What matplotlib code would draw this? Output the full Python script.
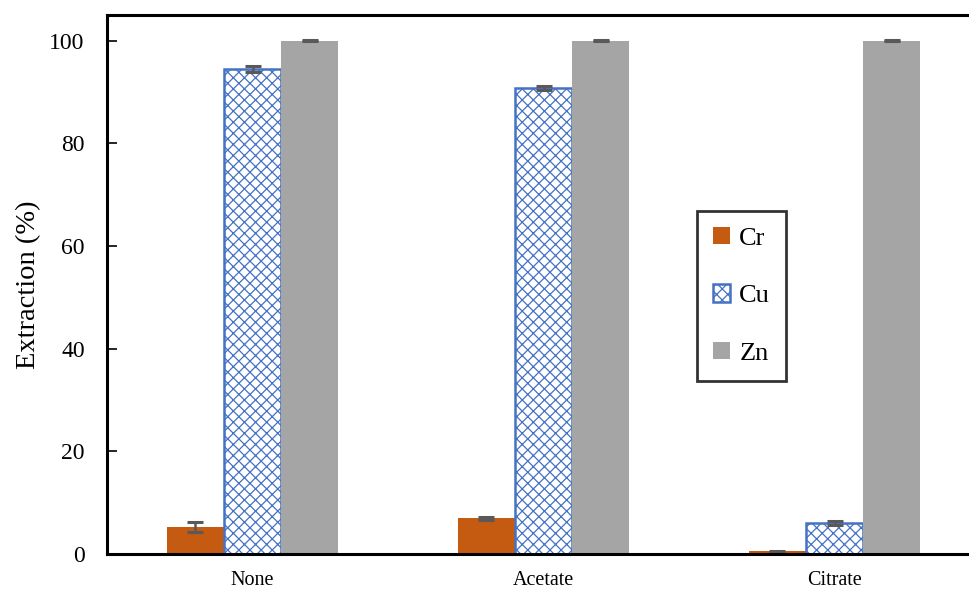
import numpy as np
import matplotlib.pyplot as plt

plt.rcParams['font.family'] = ['Liberation Serif', 'DejaVu Serif']
plt.rcParams['hatch.linewidth'] = 0.9

# data
categories = ['None', 'Acetate', 'Citrate']
cr_vals = [5.2, 7.0, 0.5]
cr_err = [1.0, 0.3, 0.1]
cu_vals = [94.5, 90.8, 6.0]
cu_err = [0.6, 0.4, 0.4]
zn_vals = [100.0, 100.0, 100.0]
zn_err = [0.1, 0.1, 0.1]

fig = plt.figure(figsize=(9.69, 5.95), dpi=100)
W, H = 969, 595
ax = fig.add_axes([107 / W, (H - 554) / H, (980 - 107) / W, (554 - 15) / H])

x = np.arange(len(categories))
bw = 0.196
err_kw = dict(ecolor='#595959', elinewidth=1.8, capsize=6, capthick=2.2)

ax.bar(x - bw, cr_vals, bw, color='#C55A11', yerr=cr_err, error_kw=err_kw, label='Cr', zorder=2)
ax.bar(x, cu_vals, bw, color='white', edgecolor='#4472C4', hatch='xxx', linewidth=1.8,
       yerr=cu_err, error_kw=err_kw, label='Cu', zorder=2)
ax.bar(x + bw, zn_vals, bw, color='#A5A5A5', yerr=zn_err, error_kw=err_kw, label='Zn', zorder=2)

ax.set_xlim(-0.5, 2.5)
ax.set_ylim(0, 105)
ax.set_yticks([0, 20, 40, 60, 80, 100])
ax.set_xticks(x)
ax.set_xticklabels(categories, fontsize=14.5)
ax.tick_params(axis='y', direction='in', length=7, width=1.2, labelsize=17, pad=16)
ax.tick_params(axis='x', length=0, pad=12)
ax.set_ylabel('Extraction (%)', fontsize=20.5, labelpad=6)

for s in ['left', 'top', 'bottom']:
    ax.spines[s].set_linewidth(2.2)
ax.spines['right'].set_visible(False)

leg = ax.legend(loc='upper left', bbox_to_anchor=((697 - 107) / 873, (554 - 211) / 539),
                fontsize=19, frameon=True, fancybox=False, edgecolor='black',
                handlelength=0.65, handleheight=0.65, handletextpad=0.35,
                labelspacing=1.3, borderpad=0.6, borderaxespad=0)
leg.get_frame().set_linewidth(2.0)

fig.savefig('out.png', dpi=100)
